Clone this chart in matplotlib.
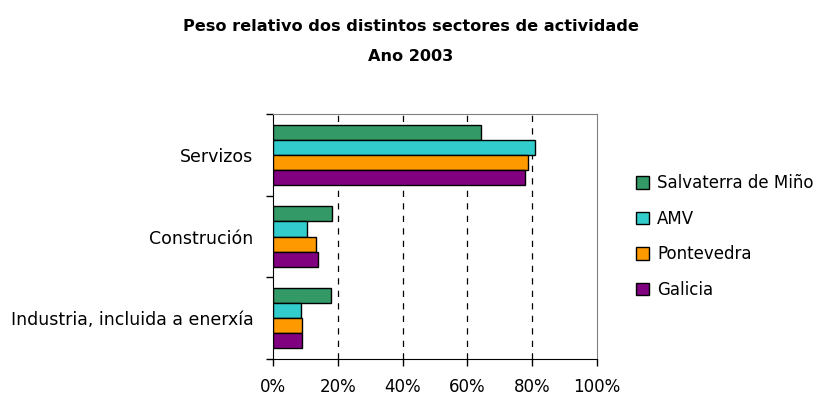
import numpy as np
import matplotlib
matplotlib.use('Agg')
import matplotlib.pyplot as plt
from matplotlib.ticker import PercentFormatter

sectores = ['Industria, incluida a enerxía', 'Construción', 'Servizos']
series = ['Salvaterra de Miño', 'AMV', 'Pontevedra', 'Galicia']
salvaterra = [17.8, 18.3, 64.2]
amv = [8.5, 10.4, 81.0]
pontevedra = [9.1, 13.2, 78.6]
galicia = [9.1, 13.8, 77.7]
cores = ['#339966', '#33CCCC', '#FF9900', '#800080']

plt.rcParams['font.family'] = ['DejaVu Sans']

fig = plt.figure(figsize=(8.22, 4.01), dpi=100)
ax = fig.add_axes([0.3321, 0.1047, 0.3942, 0.611])

valores = [salvaterra, amv, pontevedra, galicia]
y = np.arange(len(sectores))
h = 0.184
for i, (nome, v, c) in enumerate(zip(series, valores, cores)):
    # primeira serie arriba dentro de cada grupo
    off = (1.5 - i) * h
    ax.barh(y + off, v, height=h, color=c, edgecolor='black', linewidth=1.0,
            label=nome, zorder=3)

ax.set_xlim(0, 100)
ax.set_ylim(-0.5, len(sectores) - 0.5)
ax.set_xticks(np.arange(0, 101, 20))
ax.xaxis.set_major_formatter(PercentFormatter(decimals=0))
ax.set_yticks(y)
ax.set_yticklabels(sectores)
ax.set_yticks(np.arange(-0.5, len(sectores), 1), minor=True)
ax.tick_params(axis='y', which='major', length=0, pad=14, labelsize=12.5)
ax.tick_params(axis='y', which='minor', length=5, width=1, direction='out')
ax.tick_params(axis='x', length=5, width=1, direction='out', pad=9, labelsize=12)

for xv in [20, 40, 60, 80]:
    ax.axvline(xv, color='black', linestyle=(0, (5, 5)), linewidth=0.9, zorder=1)

for s in ['top', 'right']:
    ax.spines[s].set_color('#808080')
for s in ['left', 'bottom']:
    ax.spines[s].set_color('black')

fig.text(0.5, 0.935, 'Peso relativo dos distintos sectores de actividade',
         ha='center', va='center', fontsize=11.6, fontweight='bold')
fig.text(0.5, 0.858, 'Ano 2003', ha='center', va='center', fontsize=11.6,
         fontweight='bold')

ax.legend(loc='center left', bbox_to_anchor=(1.10, 0.5), frameon=False,
          fontsize=12, handlelength=0.75, handleheight=0.75, labelspacing=1.05,
          handletextpad=0.5, borderaxespad=0.0)

fig.savefig('out.png', dpi=100)
